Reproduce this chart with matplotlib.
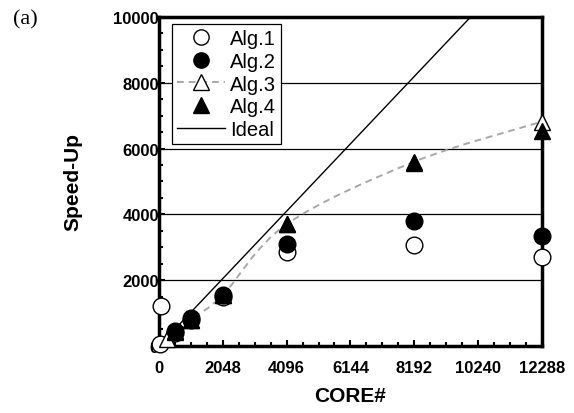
import numpy as np
import matplotlib
matplotlib.use('Agg')
import matplotlib.pyplot as plt
from matplotlib.path import Path
from matplotlib.patches import PathPatch
from matplotlib.lines import Line2D
from matplotlib.ticker import MultipleLocator

# data
alg1_x = [32, 64, 512, 1024, 2048, 4096, 8192, 12288]
alg1_y = [60, 1220, 400, 780, 1500, 2870, 3080, 2700]
alg2_x = [512, 1024, 2048, 4096, 8192, 12288]
alg2_y = [450, 850, 1550, 3100, 3800, 3350]
alg3_x = [256, 512, 1024, 2048, 4096, 8192, 12288]
alg3_y = [200, 440, 800, 1550, 3700, 5600, 6820]
alg4_x = [512, 1024, 2048, 4096, 8192, 12288]
alg4_y = [430, 800, 1550, 3700, 5550, 6540]
ideal_x = [0, 12288]
ideal_y = [0, 12288]

xticks = [0, 2048, 4096, 6144, 8192, 10240, 12288]
yticks = [0, 2000, 4000, 6000, 8000, 10000]

plt.rcParams['font.family'] = ['Liberation Sans', 'DejaVu Sans']

fig = plt.figure(figsize=(5.74, 4.14), dpi=100)
ax = fig.add_axes([0.277, 0.162, 0.667, 0.7945])


def smooth_path(xs, ys):
    # catmull-rom style bezier through the points (like a smoothed line)
    pts = np.column_stack([xs, ys]).astype(float)
    verts = [pts[0]]
    codes = [Path.MOVETO]
    n = len(pts)
    for i in range(n - 1):
        p0 = pts[i - 1] if i > 0 else pts[i]
        p1 = pts[i]
        p2 = pts[i + 1]
        p3 = pts[i + 2] if i + 2 < n else pts[i + 1]
        c1 = p1 + (p2 - p0) / 6.0
        c2 = p2 - (p3 - p1) / 6.0
        verts += [c1, c2, p2]
        codes += [Path.CURVE4] * 3
    return Path(verts, codes)


for yv in yticks[1:-1]:
    ax.axhline(yv, color='black', lw=0.9, zorder=1)

ax.plot(ideal_x, ideal_y, color='black', lw=1.0, zorder=2)

curve = PathPatch(smooth_path(alg3_x, alg3_y), fill=False, edgecolor='#a8a8a8',
                  lw=1.4, linestyle=(0, (3.5, 2.5)), zorder=2)
ax.add_patch(curve)

ms = 12
ax.plot(alg1_x, alg1_y, marker='o', linestyle='None', mfc='white', mec='black',
        mew=1.0, ms=ms, clip_on=False, zorder=3)
ax.plot(alg3_x, alg3_y, marker='^', linestyle='None', mfc='white', mec='black',
        mew=1.0, ms=ms, clip_on=False, zorder=3)
ax.plot(alg2_x, alg2_y, marker='o', linestyle='None', mfc='black', mec='black',
        mew=1.0, ms=ms, clip_on=False, zorder=4)
ax.plot(alg4_x, alg4_y, marker='^', linestyle='None', mfc='black', mec='black',
        mew=1.0, ms=ms, clip_on=False, zorder=4)

ax.set_xlim(0, 12288)
ax.set_ylim(0, 10000)
ax.set_xticks(xticks)
ax.set_yticks(yticks)
ax.xaxis.set_minor_locator(MultipleLocator(512))
ax.yaxis.set_minor_locator(MultipleLocator(500))
ax.tick_params(which='both', direction='in', width=1.5, top=False, right=False,
               labelsize=12)
ax.tick_params(which='major', length=4)
ax.tick_params(which='minor', length=3)
ax.tick_params(axis='x', pad=10)
ax.tick_params(axis='y', pad=0)
for lab in ax.get_xticklabels() + ax.get_yticklabels():
    lab.set_fontweight('bold')
for sp in ax.spines.values():
    sp.set_linewidth(2.5)

ax.set_xlabel('CORE#', fontsize=15, fontweight='bold', labelpad=8)
ax.set_ylabel('Speed-Up', fontsize=15, fontweight='bold', labelpad=22)

handles = [
    Line2D([], [], marker='o', linestyle='None', mfc='white', mec='black', ms=11),
    Line2D([], [], marker='o', linestyle='None', mfc='black', mec='black', ms=11),
    Line2D([], [], marker='^', linestyle=(0, (3.5, 2.5)), color='#a8a8a8',
           mfc='white', mec='black', ms=11, lw=1.4),
    Line2D([], [], marker='^', linestyle='None', mfc='black', mec='black', ms=11),
    Line2D([], [], color='black', lw=1.0),
]
labels = ['Alg.1', 'Alg.2', 'Alg.3', 'Alg.4', 'Ideal']
leg = ax.legend(handles, labels, loc='upper left', bbox_to_anchor=(0.033, 0.978),
                fontsize=14.5, frameon=True, fancybox=False, framealpha=1,
                edgecolor='black', borderpad=0.25, labelspacing=0.18,
                handlelength=2.4, handletextpad=0.25, borderaxespad=0)
leg.get_frame().set_linewidth(0.9)
leg.set_zorder(10)

fig.text(0.022, 0.953, '(a)', fontsize=16, family=['Liberation Serif', 'DejaVu Serif'],
         va='center', ha='left')

fig.savefig('out.png', dpi=100)
